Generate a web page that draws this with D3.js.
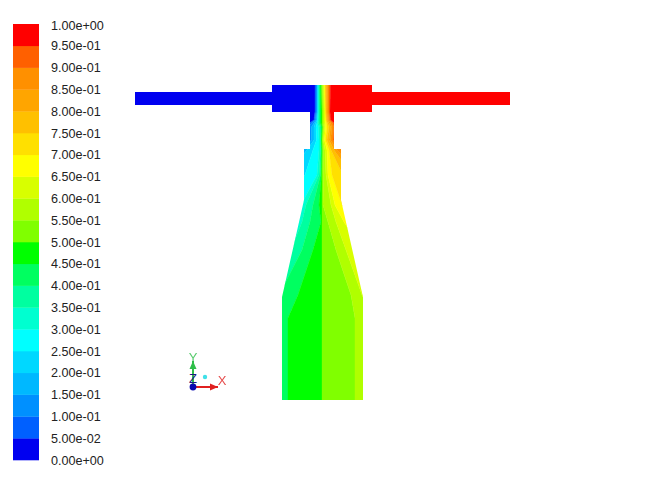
<!DOCTYPE html>
<html><head><meta charset="utf-8">
<script src="https://cdnjs.cloudflare.com/ajax/libs/d3/7.8.5/d3.min.js"></script>
<style>html,body{margin:0;background:#fff}svg{display:block}text{font-family:"Liberation Sans",Arial,sans-serif}</style>
</head><body><div id="c"></div>
<script>
// Contour levels and the legend's labels
const levels = [0.05,0.10,0.15,0.20,0.25,0.30,0.35,0.40,0.45,0.50,0.55,0.60,0.65,0.70,0.75,0.80,0.85,0.90,0.95];
const tickValues = [0,0.05,0.10,0.15,0.20,0.25,0.30,0.35,0.40,0.45,0.50,0.55,0.60,0.65,0.70,0.75,0.80,0.85,0.90,0.95,1];
const tickLabels = ["0.00e+00","5.00e-02","1.00e-01","1.50e-01","2.00e-01","2.50e-01","3.00e-01","3.50e-01","4.00e-01","4.50e-01","5.00e-01","5.50e-01","6.00e-01","6.50e-01","7.00e-01","7.50e-01","8.00e-01","8.50e-01","9.00e-01","9.50e-01","1.00e+00"];
const bandColors = ["#0404f0","#0060ff","#0090ff","#00b8ff","#00d8ff","#00ffff","#00ffd0","#00ffa0","#00ff60","#00ff00","#80ff00","#b0ff00","#d8ff00","#ffff00","#ffe000","#ffc000","#ffa500","#ff9000","#ff6000","#ff0000"];

// Geometry outline, model units: [distance from axis, depth below the top]
const wall = [[-187,8],[-50,8],[-50,1],[50,1],[50,8],[188,8],[188,21],[50,21],[50,28],[12,28],[12,65],[19,65],[19,116],[41,213],[41,316],
              [-40,316],[-40,213],[-18,116],[-18,65],[-12,65],[-12,28],[-50,28],[-50,21],[-187,21]];

// Contour positions: depth of each section and the offset of each level along it
const depths = [0,28,36,39,43,56,66,91,121,138,166,211,234,316];
const offsets = [
 [-7,-6,-5,-4.5,-4,-3.5,-3,-2.5,-1.5,-0.5,0.5,1.5,2.5,3,3.5,4.5,5.5,7,8.5],
 [-7,-6,-5,-4.5,-4,-3.5,-3,-2,-1,0,1,2,3,3.5,4,5,6,7,8],
 [-8,-7,-6,-5,-4.5,-4,-3,-2,-1,0,1,2,3,4,4.5,5.5,6.5,7.5,8.8],
 [-12.5,-10.5,-8,-6.5,-5,-4.5,-3.5,-2,-1,0,1,2,3.5,4.5,5.5,7,8.5,10.5,12.5],
 [-16,-13.5,-10.5,-8,-6,-3.5,-2,-1,0,0.7,1.5,2.5,3.5,5,7,8.5,10,12,14],
 [-18,-14.5,-10.5,-8,-5.5,-3,-1.5,-1,-0.5,0,0.7,1.3,2.5,3.5,5,7,8.5,11,14],
 [-32,-27,-21,-15,-9,-3,-1.5,-0.7,-0.2,0.5,1.5,3,5,7,9,12,15,20,26],
 [-50,-45,-40,-35,-17,-5,-3,-1.5,-0.5,0,1.5,4,6,10,21,30,38,46,55],
 [-80,-76,-72,-68,-45,-21,-16,-9,-3,0,1,9,13,20,30,45,55,65,75],
 [-100,-95,-90,-85,-60,-35,-20,-12,-1,0,6,14,22,35,45,55,65,75,85],
 [-110,-105,-100,-95,-90,-60,-31,-20,-9,0,14,24,40,70,80,90,100,110,120],
 [-110,-105,-100,-95,-90,-75,-60,-43,-24,0,29,40,60,70,80,90,100,110,120],
 [-110,-105,-100,-95,-90,-75,-65,-55,-34,0,33,50,60,70,80,90,100,110,120],
 [-110,-105,-100,-95,-90,-75,-65,-55,-34,0,33,50,60,70,80,90,100,110,120]
];
const farLeft = -190, farRight = 190;

// Triad (model units are the same as the geometry's)
const triadOrigin = [-129,303];
const triadAxes = [
 {name:"Y", tip:[-129,277], label:[-129,273], color:"#2fbf4a"},
 {name:"X", tip:[-104,303], label:[-100,296], color:"#e02020"}
];

const W = 646, H = 484;
const svg = d3.select("#c").append("svg").attr("width",W).attr("height",H);
const x = d3.scaleLinear().domain([-187,188]).range([135,510]);
const y = d3.scaleLinear().domain([0,316]).range([84,400]);
const legendY = d3.scaleLinear().domain([0,1]).range([460,24]);
const color = d3.scaleThreshold().domain(levels).range(bandColors);

const defs = svg.append("defs");
defs.append("clipPath").attr("id","vessel").append("path")
  .attr("d", d3.line().x(d=>x(d[0])).y(d=>y(d[1])).curve(d3.curveLinearClosed)(wall));
defs.append("filter").attr("id","soft").attr("x","-5%").attr("y","-5%").attr("width","110%").attr("height","110%")
  .append("feGaussianBlur").attr("stdDeviation",0.65);

// Contour bands
const area = d3.area().y(d=>y(d.depth)).x0(d=>x(d.a)).x1(d=>x(d.b));
const bands = d3.range(bandColors.length).map(i=>({
  value: i===0 ? 0 : levels[i-1],
  rows: depths.map((depth,r)=>({depth,
    a: i===0 ? farLeft : offsets[r][i-1],
    b: i===levels.length ? farRight : offsets[r][i]}))
}));
svg.append("g").attr("filter","url(#soft)")
  .append("g").attr("clip-path","url(#vessel)")
  .selectAll("path").data(bands).join("path")
  .attr("d",d=>area(d.rows)).attr("fill",d=>color(d.value))
  .attr("stroke",d=>color(d.value)).attr("stroke-width",0.4);

// Colour legend
const lg = svg.append("g").attr("filter","url(#soft)");
lg.selectAll("rect").data(d3.range(bandColors.length)).join("rect")
  .attr("x",13).attr("width",26)
  .attr("y",i=>legendY(tickValues[i+1]))
  .attr("height",i=>legendY(tickValues[i])-legendY(tickValues[i+1])+0.3)
  .attr("fill",i=>bandColors[i]);
svg.append("g").selectAll("text").data(tickValues).join("text")
  .attr("x",51).attr("y",d=>legendY(d)+ (d===1?1:0)).attr("dy","0.36em")
  .attr("font-size",12.6).attr("fill","#222")
  .text((d,i)=>tickLabels[i]);

// Triad
const t = svg.append("g");
triadAxes.forEach(a=>{
  t.append("line").attr("x1",x(triadOrigin[0])).attr("y1",y(triadOrigin[1]))
   .attr("x2",x(a.tip[0])).attr("y2",y(a.tip[1])).attr("stroke",a.color).attr("stroke-width",2);
  const dx = Math.sign(a.tip[0]-triadOrigin[0]), dy = Math.sign(a.tip[1]-triadOrigin[1]);
  const tx = x(a.tip[0]), ty = y(a.tip[1]);
  t.append("path").attr("fill",a.color).attr("d",
    d3.line()([[tx,ty],[tx-dx*8+dy*3.5,ty-dy*8+dx*3.5],[tx-dx*8-dy*3.5,ty-dy*8-dx*3.5]])+"Z");
  t.append("text").attr("x",x(a.label[0])).attr("y",y(a.label[1])).attr("dy","0.36em")
   .attr("text-anchor","middle").attr("font-size",13).attr("fill",a.color).attr("opacity",0.8).text(a.name);
});
t.append("text").attr("x",x(triadOrigin[0])).attr("y",y(triadOrigin[1]-9)).attr("dy","0.36em")
 .attr("text-anchor","middle").attr("font-size",13).attr("fill","#1a1a80").text("Z");
t.append("circle").attr("cx",x(triadOrigin[0])).attr("cy",y(triadOrigin[1])).attr("r",3.4).attr("fill","#0808b0");
t.append("circle").attr("cx",x(triadOrigin[0]+12)).attr("cy",y(triadOrigin[1]-10)).attr("r",2.2).attr("fill","#40e0e8");
</script></body></html>
